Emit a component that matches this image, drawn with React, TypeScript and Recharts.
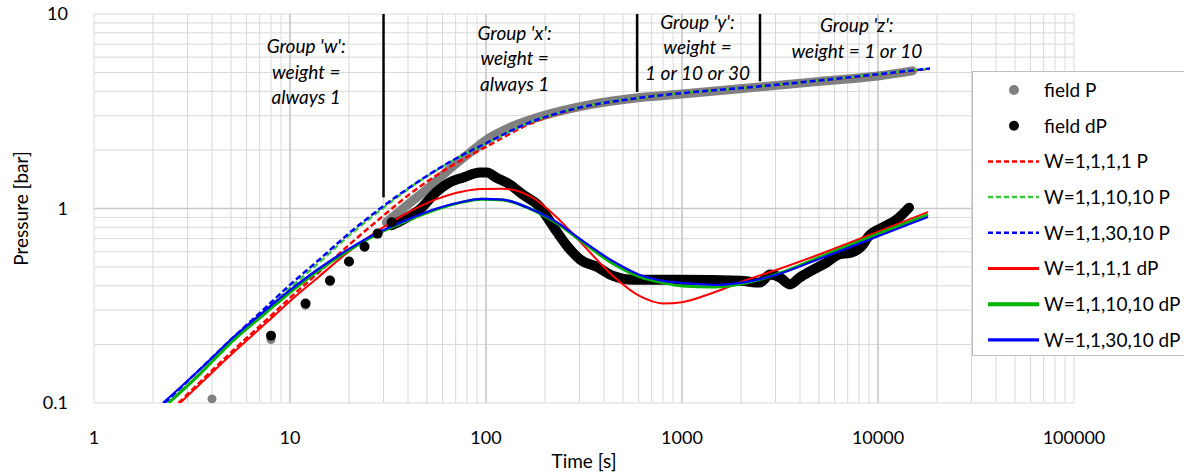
import {
  ComposedChart,
  Line,
  Scatter,
  XAxis,
  YAxis,
  CartesianGrid,
  ReferenceLine,
  ReferenceDot,
} from 'recharts';

const xTicks = [
  1, 2, 3, 4, 5, 6, 7, 8, 9,
  10, 20, 30, 40, 50, 60, 70, 80, 90,
  100, 200, 300, 400, 500, 600, 700, 800, 900,
  1000, 2000, 3000, 4000, 5000, 6000, 7000, 8000, 9000,
  10000, 20000, 30000, 40000, 50000, 60000, 70000, 80000, 90000, 100000,
];
const yTicks = [
  0.1, 0.2, 0.3, 0.4, 0.5, 0.6, 0.7, 0.8, 0.9,
  1, 2, 3, 4, 5, 6, 7, 8, 9, 10,
];
const xMajor = [10, 100, 1000, 10000];
const yMajor = [1];
const xLabels = [1, 10, 100, 1000, 10000, 100000];
const yLabels = [0.1, 1, 10];

// field data (sparse early points + dense record)
const fieldPDotT = [4, 8, 12, 16, 20, 24, 28];
const fieldPDotV = [0.105, 0.212, 0.318, 0.42, 0.53, 0.63, 0.74];
const fieldDPDotT = [8, 12, 16, 20, 24, 28, 33];
const fieldDPDotV = [0.222, 0.325, 0.426, 0.534, 0.638, 0.743, 0.85];

const fieldPT = [31, 41, 52, 65, 83, 105, 132, 189, 340, 611, 1000, 2500, 5000, 10000, 15000];
const fieldPV = [0.85, 1.07, 1.3, 1.59, 1.94, 2.32, 2.61, 2.97, 3.42, 3.72, 3.88, 4.22, 4.5, 4.8, 5.1];

const fieldDPT = [
  33, 38, 46, 56, 65, 76, 93, 101, 113, 132, 154, 188, 220, 260, 302, 370, 445, 560,
  1000, 2000, 2500, 2813, 3160, 3550, 3990, 4480, 5450, 6320, 7340, 8240, 8940, 10600, 12470, 14400,
];
const fieldDPV = [
  0.82, 0.88, 0.99, 1.22, 1.36, 1.44, 1.53, 1.53, 1.44, 1.33, 1.18, 1.02, 0.81, 0.64, 0.547, 0.5, 0.45, 0.43,
  0.43, 0.425, 0.416, 0.458, 0.442, 0.407, 0.442, 0.474, 0.527, 0.58, 0.594, 0.638, 0.718, 0.8, 0.878, 1.01,
];

// model pressure (dashed)
const modelPT = [3.47, 5, 7.6, 10, 14, 20, 30, 41, 65, 105, 167, 200, 300, 600, 1000, 2500, 5000, 10000, 18400];
const w1111PStart = 2.7;
const w1111PV = [0.128, 0.182, 0.268, 0.347, 0.469, 0.65, 0.92, 1.19, 1.63, 2.13, 2.72, 2.92, 3.28, 3.7, 3.92, 4.25, 4.55, 4.88, 5.23];
const w111010PStart = 2.4;
const w111010PV = [0.142, 0.203, 0.302, 0.39, 0.525, 0.725, 1.01, 1.28, 1.72, 2.21, 2.77, 2.95, 3.3, 3.7, 3.92, 4.25, 4.55, 4.9, 5.25];
const w113010PStart = 2.3;
const w113010PV = [0.149, 0.212, 0.313, 0.405, 0.543, 0.745, 1.03, 1.29, 1.73, 2.22, 2.77, 2.95, 3.3, 3.7, 3.92, 4.25, 4.55, 4.9, 5.25];

// model derivative (solid)
const modelDPT = [3.5, 5, 7.5, 10, 14, 20, 28, 38, 56, 75, 95, 122, 167, 230, 300, 445, 610, 800, 1000, 1450, 2150, 3150, 5000, 10000, 18000];
const w1111DPStart = 2.75;
const w1111DPV = [0.126, 0.177, 0.256, 0.334, 0.445, 0.602, 0.767, 0.928, 1.117, 1.22, 1.26, 1.265, 1.16, 0.9, 0.68, 0.45, 0.354, 0.325, 0.33, 0.37, 0.43, 0.49, 0.58, 0.76, 0.96];
const w111010DPStart = 2.4;
const w111010DPV = [0.142, 0.205, 0.29, 0.37, 0.48, 0.61, 0.74, 0.85, 0.99, 1.075, 1.115, 1.105, 1.0, 0.84, 0.69, 0.52, 0.445, 0.415, 0.4, 0.395, 0.415, 0.465, 0.56, 0.74, 0.93];
const w113010DPStart = 2.25;
const w113010DPV = [0.15, 0.212, 0.3, 0.38, 0.49, 0.62, 0.75, 0.86, 1.0, 1.08, 1.12, 1.11, 1.0, 0.85, 0.7, 0.535, 0.455, 0.425, 0.415, 0.405, 0.42, 0.462, 0.55, 0.72, 0.905];

const zip = (t: number[], v: number[]) => t.map((x, i) => ({ t: x, p: v[i] }));
const withStart = (start: number, t: number[], v: number[]) => [{ t: start, p: 0.1 }, ...zip(t, v)];

const groupLines = [
  { t: 30, bottom: 1.14 },
  { t: 590, bottom: 3.97 },
  { t: 2500, bottom: 4.51 },
];

const notes = [
  { t: 12.1, p: 6.81, lines: ["Group 'w':", 'weight =', 'always 1'] },
  { t: 140, p: 8.03, lines: ["Group 'x':", 'weight =', 'always 1'] },
  { t: 1200, p: 9.15, lines: ["Group 'y':", 'weight =', '1 or 10 or 30'] },
  { t: 7800, p: 8.73, lines: ["Group 'z':", 'weight = 1 or 10'] },
];

const FONT = 'Lato, "Open Sans", sans-serif';

const models = [
  { name: 'W=1,1,1,1 P', color: '#ff0000', dash: '6 3', width: 2.5, data: withStart(w1111PStart, modelPT, w1111PV) },
  { name: 'W=1,1,10,10 P', color: '#3cc83c', dash: '6 3', width: 2.5, data: withStart(w111010PStart, modelPT, w111010PV) },
  { name: 'W=1,1,30,10 P', color: '#0000ff', dash: '6 3', width: 2.5, data: withStart(w113010PStart, modelPT, w113010PV) },
  { name: 'W=1,1,1,1 dP', color: '#ff0000', dash: undefined, width: 2, data: withStart(w1111DPStart, modelDPT, w1111DPV) },
  { name: 'W=1,1,10,10 dP', color: '#00b400', dash: undefined, width: 3, data: withStart(w111010DPStart, modelDPT, w111010DPV) },
  { name: 'W=1,1,30,10 dP', color: '#0000ff', dash: undefined, width: 2.25, data: withStart(w113010DPStart, modelDPT, w113010DPV) },
];

function Dot(color: string, r: number) {
  return (props: any) => <circle cx={props.cx} cy={props.cy} r={r} fill={color} />;
}

function Note({ cx, cy, lines }: any) {
  return (
    <text x={cx} y={cy} textAnchor="middle" fontFamily={FONT} fontStyle="italic" fontSize={19} fill="#000">
      {lines.map((s: string, i: number) => (
        <tspan key={i} x={cx} dy={i === 0 ? 7 : 25.5}>{s}</tspan>
      ))}
    </text>
  );
}

function LegendBox() {
  const rows = [
    { name: 'field P', kind: 'dot', color: '#808080' },
    { name: 'field dP', kind: 'dot', color: '#000000' },
    ...models.map((m) => ({ name: m.name, kind: m.dash ? 'dash' : 'line', color: m.color, width: m.width })),
  ];
  return (
    <div
      style={{
        position: 'absolute', left: 972, top: 71, width: 240, height: 285,
        border: '1px solid #bfbfbf', background: '#fff', boxSizing: 'border-box',
      }}
    >
      <svg width={240} height={285} style={{ position: 'absolute', left: 0, top: 0 }}>
        {rows.map((r: any, i) => {
          const y = 18 + i * 35.7;
          return (
            <g key={r.name}>
              {r.kind === 'dot' ? (
                <circle cx={41} cy={y} r={5} fill={r.color} />
              ) : (
                <line x1={15} x2={66} y1={y} y2={y} stroke={r.color}
                  strokeWidth={r.kind === 'dash' ? 2.5 : r.width + 1}
                  strokeDasharray={r.kind === 'dash' ? '5 3' : undefined} />
              )}
              <text x={71} y={y} dy="0.36em" fontFamily={FONT} fontSize={19} fill="#000">{r.name}</text>
            </g>
          );
        })}
      </svg>
    </div>
  );
}

export default function App() {
  return (
    <div style={{ position: 'absolute', left: 0, top: 0, width: 1184, height: 475, overflow: 'hidden', background: '#fff' }}>
      <ComposedChart width={1184} height={475} margin={{ top: 14, right: 110, bottom: 0, left: 0 }}>
        <CartesianGrid stroke="#d9d9d9" strokeWidth={1} />
        <XAxis
          dataKey="t" type="number" scale="log" domain={[1, 100000]} allowDataOverflow
          ticks={xTicks} interval={0} tickLine={false} axisLine={false} height={72} tickMargin={22}
          tickFormatter={(v: number) => (xLabels.includes(v) ? String(v) : '')}
          tick={{ fontFamily: FONT, fontSize: 18, fill: '#000' }}
          label={{
            content: (p: any) => (
              <text x={p.viewBox.x + p.viewBox.width / 2} y={468} textAnchor="middle" fontFamily={FONT} fontSize={19} fill="#000">Time [s]</text>
            ),
          }}
        />
        <YAxis
          dataKey="p" type="number" scale="log" domain={[0.1, 10]} allowDataOverflow
          ticks={yTicks} interval={0} tickLine={false} axisLine={false} width={94} tickMargin={20}
          tickFormatter={(v: number) => (yLabels.includes(v) ? String(v) : '')}
          tick={{ fontFamily: FONT, fontSize: 18, fill: '#000' }}
          label={{
            content: (p: any) => {
              const cy = p.viewBox.y + p.viewBox.height / 2;
              return (
                <text x={20} y={cy} transform={`rotate(-90 20 ${cy})`} textAnchor="middle" dominantBaseline="central" fontFamily={FONT} fontSize={19} fill="#000">Pressure [bar]</text>
              );
            },
          }}
        />
        {xMajor.map((v) => (
          <ReferenceLine key={'mx' + v} x={v} stroke="#c8c8c8" strokeWidth={1.4} />
        ))}
        {yMajor.map((v) => (
          <ReferenceLine key={'my' + v} y={v} stroke="#c8c8c8" strokeWidth={1.4} />
        ))}
        {groupLines.map((g) => (
          <ReferenceLine key={'g' + g.t} segment={[{ x: g.t, y: 10 }, { x: g.t, y: g.bottom }]} stroke="#000" strokeWidth={2.5} ifOverflow="visible" />
        ))}
        {notes.map((n) => (
          <ReferenceDot key={'n' + n.t} x={n.t} y={n.p} r={0} ifOverflow="visible"
            shape={(p: any) => <Note cx={p.cx} cy={p.cy} lines={n.lines} />} />
        ))}
        <Line data={zip(fieldPT, fieldPV)} dataKey="p" type="monotone" stroke="#808080" strokeWidth={9} strokeLinecap="round" strokeLinejoin="round" dot={false} isAnimationActive={false} />
        <Scatter data={zip(fieldPDotT, fieldPDotV)} dataKey="p" shape={Dot('#808080', 4.5)} isAnimationActive={false} />
        <Line data={zip(fieldDPT, fieldDPV)} dataKey="p" type="monotone" stroke="#000000" strokeWidth={10} strokeLinecap="round" strokeLinejoin="round" dot={false} isAnimationActive={false} />
        <Scatter data={zip(fieldDPDotT, fieldDPDotV)} dataKey="p" shape={Dot('#000000', 5)} isAnimationActive={false} />
        {models.map((m) => (
          <Line key={m.name} data={m.data} dataKey="p" type="monotone" stroke={m.color} strokeWidth={m.width} strokeDasharray={m.dash} dot={false} isAnimationActive={false} />
        ))}
      </ComposedChart>
      <LegendBox />
    </div>
  );
}
